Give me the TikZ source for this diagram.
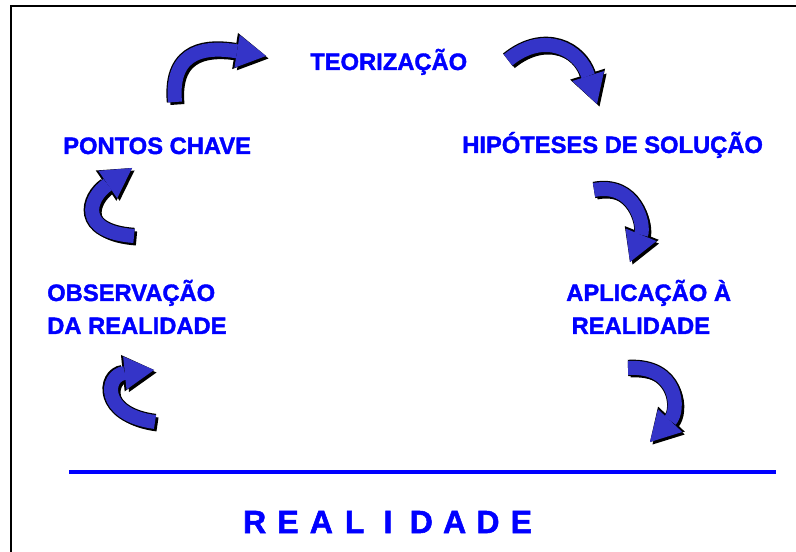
\documentclass[tikz,border=0pt]{standalone}
\usepackage{fontspec}
\setmainfont{Liberation Sans}
\usetikzlibrary{arrows.meta}
\definecolor{txtblue}{RGB}{0,0,255}
\definecolor{arrblue}{RGB}{52,52,200}
\tikzset{
  lbl/.style={inner sep=0pt, text=txtblue, font=\fontsize{17.8pt}{24.75pt}\selectfont\bfseries\addfontfeature{FakeBold=1.6}, align=left},
  shadowarr/.style={draw=black, line width=10.5pt, line cap=butt, -{Triangle[length=22pt,width=25pt,line width=0pt]}},
  outlinearr/.style={draw=black, line width=12.3pt, line cap=butt, -{Triangle[length=23.5pt,width=27.5pt,line width=0pt]}},
  fillarr/.style={draw=arrblue, line width=10.5pt, line cap=butt, -{Triangle[length=22pt,width=25pt,line width=0pt]}}
}
\newcommand\cyclearrow[1]{%
  \draw[shadowarr, shift={(2.5,2.5)}] #1;
  \draw[outlinearr] #1;
  \draw[fillarr] #1;}
\begin{document}
\begin{tikzpicture}[x=0.75pt, y=-0.75pt]
\useasboundingbox (0,0) rectangle (796,552);
\fill[white] (0,0) rectangle (796,552);
% frame
\draw[line width=1.7pt] (11,560) -- (11,5.7) -- (800,5.7);
% labels
\node[lbl, anchor=base west] (teo) at (310,70) {TEORIZAÇÃO};
\node[lbl, anchor=base west] (pc) at (63,154) {PONTOS CHAVE};
\node[lbl, anchor=base west] (hip) at (462,153) {HIPÓTESES DE SOLUÇÃO};
\node[lbl, anchor=base west] (obs) at (47,334) {OBSERVAÇÃO\\DA REALIDADE};
\node[lbl, anchor=base west] (apl) at (566,334) {APLICAÇÃO À\\\hspace*{4pt}REALIDADE};
% arrows
\cyclearrow{(175,102) .. controls (170,47) and (210,47) .. (266,56)}
\cyclearrow{(508,60) .. controls (545,30) and (580,50) .. (597,104)}
\cyclearrow{(134,236) .. controls (78,232) and (88,198) .. (132,168)}
\cyclearrow{(594,190) .. controls (635,182) and (645,225) .. (630,262)}
\cyclearrow{(155,422) .. controls (100,415) and (105,375) .. (154,370)}
\cyclearrow{(628,368) .. controls (678,365) and (680,410) .. (650,442)}
% reality line
\coordinate (l1) at (69,472);
\coordinate (l2) at (776,472);
\draw[txtblue, line width=2.6pt] (l1) -- (l2);
\node[inner sep=0pt, text=txtblue, font=\fontsize{24pt}{28pt}\selectfont\bfseries\addfontfeature{FakeBold=1.6}, anchor=base] (real) at (388,533)
  {\makebox[25pt]{R}\makebox[25pt]{E}\makebox[25pt]{A}\makebox[25pt]{L}\makebox[25pt]{I}\makebox[25pt]{D}\makebox[25pt]{A}\makebox[25pt]{D}\makebox[25pt]{E}};
\end{tikzpicture}
\end{document}
